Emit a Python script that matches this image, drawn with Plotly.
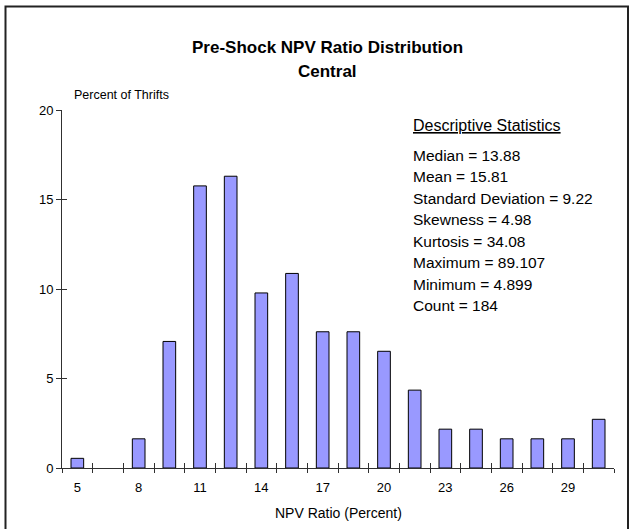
import plotly.graph_objects as go

# ---- data ----
bin_starts = [5, 6.5, 8, 9.5, 11, 12.5, 14, 15.5, 17, 18.5, 20, 21.5, 23, 24.5, 26, 27.5, 29, 30.5]
percent_of_thrifts = [0.54, 0.0, 1.63, 7.07, 15.76, 16.30, 9.78, 10.87, 7.61, 7.61,
                      6.52, 4.35, 2.17, 2.17, 1.63, 1.63, 1.63, 2.72]
x_tick_vals = [5, 8, 11, 14, 17, 20, 23, 26, 29]
x_tick_text = ["5", "8", "11", "14", "17", "20", "23", "26", "29"]
y_tick_vals = [0, 5, 10, 15, 20]

title_lines = ["Pre-Shock NPV Ratio Distribution", "Central"]
x_title = "NPV Ratio (Percent)"
y_title = "Percent of Thrifts"
stats_header = "Descriptive Statistics"
stats_lines = [
    "Median = 13.88",
    "Mean = 15.81",
    "Standard Deviation = 9.22",
    "Skewness = 4.98",
    "Kurtosis = 34.08",
    "Maximum = 89.107",
    "Minimum = 4.899",
    "Count = 184",
]

FONT = "Liberation Sans, Arial, sans-serif"
bin_w = 1.5
x_lo = bin_starts[0] - bin_w / 2
x_hi = bin_starts[-1] + bin_w / 2

# plot-area geometry in pixels (for placing paper-referenced annotations)
L, R, T, B = 62, 15, 110, 61
W, H = 629, 529
PW, PH = W - L - R, H - T - B


def px_x(p):
    return (p - L) / PW


def px_y(p):
    return (H - B - p) / PH


fig = go.Figure()
fig.add_trace(go.Bar(
    x=bin_starts, y=percent_of_thrifts,
    width=0.62,
    marker=dict(color="#9999FF",
                line=dict(color="#000000", width=[0 if v == 0 else 1 for v in percent_of_thrifts])),
    hoverinfo="x+y",
))
# invisible helper trace so the overlay axes (inner tick halves) are drawn
fig.add_trace(go.Scatter(
    x=bin_starts, y=percent_of_thrifts, xaxis="x2", yaxis="y2",
    mode="markers", marker=dict(opacity=0), hoverinfo="skip", showlegend=False,
))

axis_color = "#303030"
fig.update_layout(
    width=W, height=H,
    margin=dict(l=L, r=R, t=T, b=B, autoexpand=False),
    paper_bgcolor="white", plot_bgcolor="white",
    showlegend=False,
    font=dict(family=FONT, size=13, color="black"),
    xaxis=dict(
        range=[x_lo, x_hi], tickmode="array", tickvals=x_tick_vals, ticktext=x_tick_text,
        ticks="", showgrid=False, zeroline=False, showline=True,
        linecolor=axis_color, linewidth=1, automargin=False, ticklabelstandoff=7,
        tickfont=dict(family=FONT, size=13, color="black"),
        minor=dict(tick0=x_lo, dtick=bin_w, ticks="outside", ticklen=4,
                   tickcolor=axis_color, tickwidth=1, showgrid=False),
        fixedrange=True,
    ),
    yaxis=dict(
        range=[0, 20], tickmode="array", tickvals=y_tick_vals,
        ticks="outside", ticklen=5, tickcolor=axis_color, tickwidth=1,
        showgrid=False, zeroline=False, showline=True, linecolor=axis_color, linewidth=1,
        automargin=False,
        tickfont=dict(family=FONT, size=13, color="black"),
        fixedrange=True,
    ),
    xaxis2=dict(
        overlaying="x", side="bottom", range=[x_lo, x_hi], automargin=False,
        tick0=x_lo, dtick=bin_w, ticks="inside", ticklen=5, tickcolor=axis_color, tickwidth=1,
        showticklabels=False, showgrid=False, zeroline=False, showline=False, fixedrange=True,
    ),
    yaxis2=dict(
        overlaying="y", side="left", range=[0, 20], tickmode="array", tickvals=y_tick_vals,
        ticks="inside", ticklen=5, tickcolor=axis_color, tickwidth=1, automargin=False,
        showticklabels=False, showgrid=False, zeroline=False, showline=False, fixedrange=True,
    ),
)

annotations = []
for txt, yp in zip(title_lines, [47, 72]):
    annotations.append(dict(text="<b>" + txt + "</b>", xref="paper", yref="paper",
                            x=px_x(327), y=px_y(yp), xanchor="center", yanchor="middle",
                            showarrow=False, font=dict(family=FONT, size=17, color="black")))
annotations.append(dict(text=y_title, xref="paper", yref="paper",
                        x=px_x(72), y=px_y(95), xanchor="left", yanchor="middle", showarrow=False,
                        font=dict(family=FONT, size=12.5, color="black")))
annotations.append(dict(text=x_title, xref="paper", yref="paper",
                        x=0.5, y=px_y(513), xanchor="center", yanchor="middle", showarrow=False,
                        font=dict(family=FONT, size=14, color="black")))
annotations.append(dict(text="<u>" + stats_header + "</u>", xref="paper", yref="paper",
                        x=px_x(411), y=px_y(125), xanchor="left", yanchor="middle",
                        showarrow=False, font=dict(family=FONT, size=16, color="black")))
for i, line in enumerate(stats_lines):
    annotations.append(dict(text=line, xref="paper", yref="paper",
                            x=px_x(411), y=px_y(155 + i * 21.5), xanchor="left", yanchor="middle",
                            showarrow=False, font=dict(family=FONT, size=15.5, color="black")))
fig.update_layout(annotations=annotations)

# outer chart border
fig.add_shape(type="rect", xref="paper", yref="paper",
              x0=px_x(5.5), x1=px_x(628), y0=px_y(532), y1=px_y(6.5),
              line=dict(color="#222222", width=2), fillcolor="rgba(0,0,0,0)", layer="below")

fig.write_html("out.html", config={"displayModeBar": False},
               post_script="document.body.style.margin='0';")
